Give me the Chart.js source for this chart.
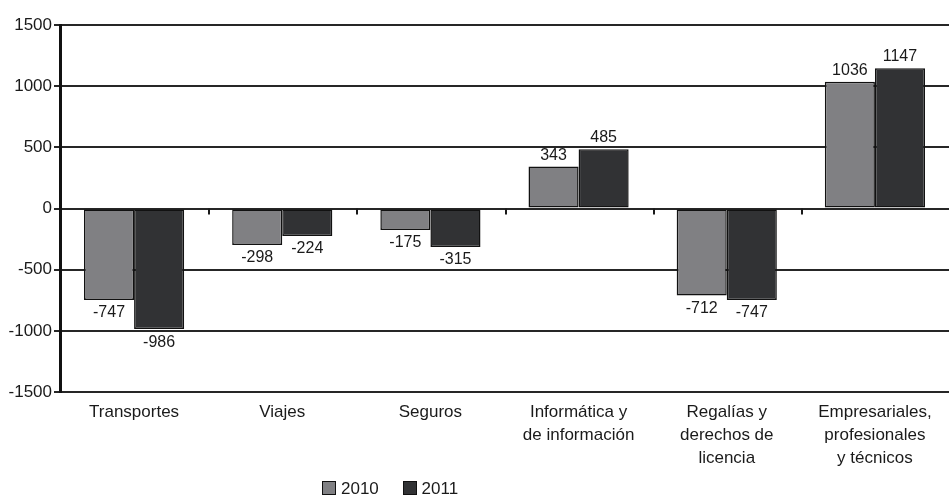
<!DOCTYPE html>
<html lang="es">
<head>
<meta charset="utf-8"/>
<title>Servicios 2010-2011</title>
<script src="https://cdn.jsdelivr.net/npm/chart.js@4.4.1/dist/chart.umd.min.js"></script>
<style>
	body { margin: 0; background: #fff; font-family: "Liberation Sans", Arial, sans-serif; }
	.wrap { position: relative; width: 949px; height: 498px; }
	.legend { position: absolute; left: 322px; top: 479px; font-size: 17px; color: #1a1a1a; white-space: nowrap; }
	.legend span.box { display: inline-block; width: 12px; height: 12px; border: 1.5px solid #111; vertical-align: -1px; margin-right: 5px; }
	.legend span.item { margin-right: 19px; }
</style>
</head>
<body>
<div class="wrap">
	<canvas id="grafico" width="949" height="498"></canvas>
	<div class="legend">
		<span class="item"><span class="box" style="background:#808083"></span>2010</span>
		<span class="item"><span class="box" style="background:#313234"></span>2011</span>
	</div>
</div>
<script>
// datos
const categorias = [
	"Transportes",
	"Viajes",
	"Seguros",
	["Informática y", "de información"],
	["Regalías y", "derechos de", "licencia"],
	["Empresariales,", "profesionales", "y técnicos"]
];
const valores2010 = [-747, -298, -175, 343, -712, 1036];
const valores2011 = [-986, -224, -315, 485, -747, 1147];
const ejeY = { min: -1500, max: 1500, paso: 500 };

const fuente = '"Liberation Sans", Arial, sans-serif';

// etiquetas de valor encima / debajo de cada barra
const etiquetas = {
	id: 'etiquetas',
	afterDatasetsDraw(chart) {
		const ctx = chart.ctx;
		ctx.save();
		ctx.font = '16px ' + fuente;
		ctx.fillStyle = '#1a1a1a';
		ctx.textAlign = 'center';
		chart.data.datasets.forEach((ds, i) => {
			chart.getDatasetMeta(i).data.forEach((bar, j) => {
				const v = ds.data[j];
				if (v >= 0) {
					ctx.textBaseline = 'alphabetic';
					ctx.fillText(v, bar.x, bar.y - 7);
				} else {
					ctx.textBaseline = 'top';
					ctx.fillText(v, bar.x, bar.y + 5);
				}
			});
		});
		ctx.restore();
	}
};

// marcas pequeñas sobre la linea del cero entre categorias
const marcasCero = {
	id: 'marcasCero',
	afterDatasetsDraw(chart) {
		const x = chart.scales.x, y = chart.scales.y;
		const y0 = y.getPixelForValue(0);
		const ctx = chart.ctx;
		ctx.save();
		ctx.strokeStyle = '#1a1a1a';
		ctx.lineWidth = 2;
		for (let i = 1; i < categorias.length; i++) {
			const px = Math.round((x.getPixelForValue(i - 1) + x.getPixelForValue(i)) / 2) + 1;
			ctx.beginPath();
			ctx.moveTo(px, y0);
			ctx.lineTo(px, y0 + 6);
			ctx.stroke();
		}
		ctx.restore();
	}
};

new Chart(document.getElementById('grafico'), {
	type: 'bar',
	data: {
		labels: categorias,
		datasets: [
			{
				label: '2010',
				data: valores2010,
				backgroundColor: '#808083',
				borderColor: '#111',
				borderWidth: 1.5,
				borderSkipped: false
			},
			{
				label: '2011',
				data: valores2011,
				backgroundColor: '#313234',
				borderColor: '#111',
				borderWidth: 1.5,
				borderSkipped: false
			}
		]
	},
	options: {
		responsive: false,
		animation: false,
		layout: { padding: { top: 25, right: 0, bottom: 0, left: 0 } },
		datasets: { bar: { categoryPercentage: 0.676, barPercentage: 1 } },
		plugins: {
			legend: { display: false },
			tooltip: { enabled: false }
		},
		scales: {
			x: {
				grid: { display: false, drawTicks: false },
				border: { display: false },
				ticks: {
					color: '#1a1a1a',
					padding: 9,
					maxRotation: 0,
					autoSkip: false,
					font: { family: fuente, size: 17, lineHeight: 1.35 }
				},
				afterFit(scale) { scale.height = 106; }
			},
			y: {
				min: ejeY.min,
				max: ejeY.max,
				grid: { color: '#262626', lineWidth: 2, tickLength: 6, tickColor: '#262626' },
				border: { display: true, color: '#111', width: 3 },
				ticks: {
					stepSize: ejeY.paso,
					color: '#1a1a1a',
					padding: 2,
					font: { family: fuente, size: 17 },
					callback: (v) => String(v)
				},
				afterFit(scale) { scale.width = 60; }
			}
		}
	},
	plugins: [etiquetas, marcasCero]
});
</script>
</body>
</html>
